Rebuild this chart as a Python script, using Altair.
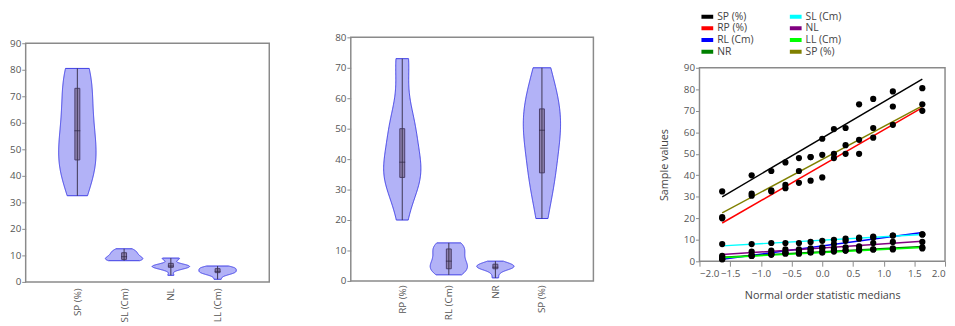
import altair as alt
import pandas as pd

FONT = "Open Sans"

# ---------------- panel 1 (violins) ----------------
p1_cats = ["SP (%)", "SL (Cm)", "NL", "LL (Cm)"]
sp1 = [32.5, 40, 42, 46, 48, 48.5, 57, 61.5, 62, 73, 75.5, 79, 80.5]
sl = [8, 8, 8.5, 8.5, 8.5, 9, 9.5, 10, 10.5, 11, 11.5, 12, 12.5]
nl = [2.5, 4.5, 5, 5.5, 5.5, 6, 6, 6, 6.5, 7, 8.5, 9, 9]
ll = [1, 2.5, 3, 3.5, 3.5, 4, 4, 4.5, 5, 5, 5.5, 5.5, 6]
p1_ticks = [0, 10, 20, 30, 40, 50, 60, 70, 80, 90]

# ---------------- panel 2 (violins) ----------------
p2_cats = ["RP (%)", "RL (Cm)", "NR", "SP (%)"]
rp = [20, 30.5, 32.5, 34, 36.5, 37.5, 39, 48, 50, 50, 57.5, 72, 73]
rl = [2, 3, 3.5, 4, 5, 5.5, 6.5, 8, 9.5, 10.5, 11, 12, 12.5]
nr = [1, 2.5, 3.5, 4, 4, 4.5, 4.5, 5, 5, 5.5, 5.5, 6, 6.5]
sp2 = [20.5, 31.5, 33, 35.5, 42, 48.5, 49.5, 50, 54, 56.5, 62, 63.5, 70]
p2_ticks = [0, 10, 20, 30, 40, 50, 60, 70, 80]

# ---------------- panel 3 (normal probability plot) ----------------
qq_medians = [-1.63, -1.15, -0.83, -0.6, -0.38, -0.19, 0.0, 0.19, 0.38, 0.6, 0.83, 1.15, 1.63]
# legend is filled column by column
qq_keys = ["SP (%)", "RP (%)", "RL (Cm)", "NR", "SL (Cm)", "NL", "LL (Cm)", "SP (%) 2"]
qq_values = [sp1, rp, rl, nr, sl, nl, ll, sp2]
qq_colors = ["#000000", "#ff0000", "#0000ff", "#008000", "#00ffff", "#800080", "#00ff00", "#808000"]
qq_xticks = [-2.0, -1.5, -1.0, -0.5, 0.0, 0.5, 1.0, 1.5, 2.0]
qq_yticks = [0, 10, 20, 30, 40, 50, 60, 70, 80, 90]

VIOLIN_FILL = "#aaaaf6"
VIOLIN_STROKE = "#3b3be4"
BOX_FILL = "#8f82b0"
BOX_STROKE = "#4a3f6b"
FRAME = "#8a8a8a"


def spacer(w, h):
    return (
        alt.Chart(pd.DataFrame({"v": [0]}))
        .mark_rule(strokeOpacity=0)
        .encode(x=alt.value(0), x2=alt.value(w), y=alt.value(h / 2))
        .properties(width=w, height=h, view=alt.ViewBackground(strokeOpacity=0))
    )


def violin_panel(cats, series, w, h, ymax, yticks, label_pad):
    rows = []
    for i, (c, vals) in enumerate(zip(cats, series), start=1):
        for v in vals:
            rows.append({"cat": c, "idx": i, "value": v})
    df = pd.DataFrame(rows)
    expr = " : ".join(f"datum.value == {i} ? '{c}'" for i, c in enumerate(cats, start=1)) + " : ''"
    xaxis = alt.Axis(values=[1, 2, 3, 4], labelExpr=expr, labelAngle=270, ticks=False,
                     domain=False, grid=False, title=None, labelPadding=label_pad)
    xscale = alt.Scale(domain=[0, 5], nice=False, zero=False)
    yaxis = alt.Axis(values=yticks, domain=False, grid=False, title=None, tickSize=4,
                     labelPadding=1)
    yscale = alt.Scale(domain=[0, ymax], nice=False)

    base = alt.Chart(df)
    layers = []
    for i, c in enumerate(cats, start=1):
        v = (
            base.transform_filter(alt.datum.idx == i)
            .transform_density("value", as_=["value", "density"], groupby=["cat", "idx"])
            .transform_joinaggregate(maxd="max(density)", groupby=["cat"])
            .transform_calculate(
                xl="datum.idx - 0.4 * datum.density / datum.maxd",
                xr="datum.idx + 0.4 * datum.density / datum.maxd",
            )
            .mark_area(orient="horizontal", fill=VIOLIN_FILL, stroke=VIOLIN_STROKE,
                       strokeWidth=1, fillOpacity=0.9)
            .encode(
                x=alt.X("xl:Q", scale=xscale, axis=xaxis, title=None),
                x2="xr:Q",
                y=alt.Y("value:Q", scale=yscale, axis=yaxis, title=None),
            )
        )
        layers.append(v)
    stats = base.transform_aggregate(
        lo="min(value)", hi="max(value)", q1="q1(value)", q3="q3(value)",
        med="median(value)", groupby=["cat", "idx"],
    )
    box = stats.mark_bar(size=5, fill=BOX_FILL, stroke=BOX_STROKE, strokeWidth=1).encode(
        x=alt.X("idx:Q", scale=xscale, axis=xaxis, title=None),
        y=alt.Y("q1:Q", scale=yscale, axis=yaxis, title=None),
        y2="q3:Q",
    )
    whisk = stats.mark_rule(color="#3c3550", strokeWidth=1).encode(
        x=alt.X("idx:Q", scale=xscale, axis=xaxis, title=None),
        y=alt.Y("lo:Q", scale=yscale, axis=yaxis, title=None),
        y2="hi:Q",
    )
    med = stats.mark_tick(orient="horizontal", size=6, thickness=1, color="#2a2340").encode(
        x=alt.X("idx:Q", scale=xscale, axis=xaxis, title=None),
        y=alt.Y("med:Q", scale=yscale, axis=yaxis, title=None),
    )
    return alt.layer(*layers, box, whisk, med).properties(width=w, height=h)


p1 = violin_panel(p1_cats, [sp1, sl, nl, ll], 248, 243, 90, p1_ticks, 6)
p2 = violin_panel(p2_cats, [rp, rl, nr, sp2], 247, 248, 80, p2_ticks, 4)

qq_rows = []
for key, vals in zip(qq_keys, qq_values):
    for m, v in zip(qq_medians, vals):
        qq_rows.append({"series": key, "m": m, "value": v})
qq = pd.DataFrame(qq_rows)

qx = alt.Scale(domain=[-2, 2], nice=False)
qy = alt.Scale(domain=[0, 90], nice=False)
qxaxis = alt.Axis(values=qq_xticks, format=".1f", domain=False, grid=False,
                  tickSize=5, title="Normal order statistic medians", titlePadding=12,
                  titleFontWeight="normal", titleFontSize=11, titleColor="#444")
qyaxis = alt.Axis(values=qq_yticks, domain=False, grid=False, tickSize=4, labelPadding=1,
                  title="Sample values", titlePadding=14, titleFontWeight="normal",
                  titleFontSize=11, titleColor="#444")

lines = (
    alt.Chart(qq)
    .transform_regression("m", "value", groupby=["series"])
    .mark_line(strokeWidth=1.5)
    .encode(
        x=alt.X("m:Q", scale=qx, axis=qxaxis),
        y=alt.Y("value:Q", scale=qy, axis=qyaxis),
        color=alt.Color(
            "series:N",
            scale=alt.Scale(domain=qq_keys, range=qq_colors),
            legend=alt.Legend(
                orient="none", legendX=688, legendY=-3, columns=2, columnPadding=36,
                symbolType="M-1.85,0H1.85", symbolStrokeWidth=4, symbolSize=49,
                labelFontSize=10.5, labelColor="#444", rowPadding=0, clipHeight=11.4,
                title=None, labelOffset=5, padding=0,
                labelExpr="datum.label == 'SP (%) 2' ? 'SP (%)' : datum.label",
            ),
        ),
    )
)
points = alt.Chart(qq).mark_circle(size=40, color="black", opacity=1).encode(
    x=alt.X("m:Q", scale=qx, axis=qxaxis),
    y=alt.Y("value:Q", scale=qy, axis=qyaxis),
)
p3 = alt.layer(lines, points).properties(width=250, height=197)

col1 = alt.vconcat(spacer(248, 24), p1, spacing=0)
col2 = alt.vconcat(spacer(247, 18), p2, spacing=0)
col3 = alt.vconcat(spacer(250, 49), p3, spacing=0)

chart = (
    alt.hconcat(col1, col2, col3, spacing=64)
    .properties(padding=0)
    .configure(font=FONT)
    .configure_view(stroke=FRAME, strokeWidth=1.5)
    .configure_axis(labelColor="#555", labelFontSize=10, tickColor=FRAME,
                    labelFont=FONT, titleFont=FONT)
    .configure_legend(labelFont=FONT)
)

chart.save("out.html", embed_options={"renderer": "svg", "actions": False})
